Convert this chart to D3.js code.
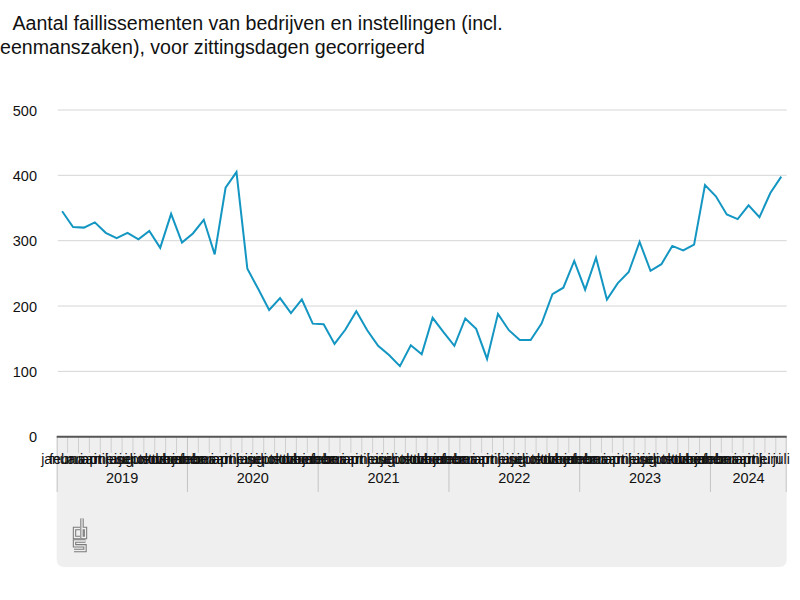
<!DOCTYPE html>
<html>
<head>
<meta charset="utf-8">
<script src="https://cdn.jsdelivr.net/npm/d3@7/dist/d3.min.js"></script>
<style>
  html, body { margin: 0; padding: 0; background: #fff; }
  svg { display: block; font-family: "Liberation Sans", Arial, Helvetica, sans-serif; }
</style>
</head>
<body>
<svg id="chart" width="800" height="600"></svg>
<script>
// ---- data ----
const titleLines = [
  "Aantal faillissementen van bedrijven en instellingen (incl.",
  "eenmanszaken), voor zittingsdagen gecorrigeerd"
];
const years = ["2019", "2020", "2021", "2022", "2023", "2024"];
const monthNames = ["januari", "februari", "maart", "april", "mei", "juni",
  "juli", "augustus", "september", "oktober", "november", "december"];
const monthsPerYear = [12, 12, 12, 12, 12, 7];
const values = [
  // 2019
  345, 321, 320, 328, 312, 304, 312, 302, 315, 289, 341, 297,
  // 2020
  311, 332, 279, 381, 405, 257, 226, 194, 212, 189, 210, 173,
  // 2021
  172, 142, 164, 192, 163, 139, 125, 108, 140, 126, 182, 160,
  // 2022
  139, 181, 165, 119, 188, 163, 148, 148, 173, 218, 228, 269,
  // 2023
  225, 274, 210, 235, 252, 298, 254, 264, 292, 285, 294, 385,
  // 2024
  368, 340, 333, 354, 336, 373, 398
];
const yTicks = [0, 100, 200, 300, 400, 500];

// ---- build categories ----
const cats = [];
years.forEach((yr, yi) => {
  for (let m = 0; m < monthsPerYear[yi]; m++) {
    cats.push({ key: yr + "-" + m, year: yr, month: monthNames[m] });
  }
});
const data = cats.map((c, i) => ({ ...c, value: values[i] }));

// ---- layout ----
const svg = d3.select("#chart");
const plotLeft = 56.7, plotRight = 786.7, plotTop = 110, plotBottom = 436.7;

const x = d3.scaleBand().domain(cats.map(c => c.key)).range([plotLeft, plotRight]).padding(0);
const y = d3.scaleLinear().domain([0, 500]).range([plotBottom, plotTop]);

// title
svg.append("g").selectAll("text").data(titleLines).join("text")
  .attr("x", (d, i) => i === 0 ? 12.5 : 0)
  .attr("y", (d, i) => 30 + i * 24)
  .attr("font-size", 19.6)
  .attr("fill", "#111")
  .text(d => d);

// grey x-axis panel
svg.append("path")
  .attr("d", (() => {
    const x0 = plotLeft, x1 = plotRight, y0 = plotBottom, y1 = 567, r = 8;
    return `M${x0},${y0} H${x1} V${y1 - r} Q${x1},${y1} ${x1 - r},${y1} H${x0 + r} Q${x0},${y1} ${x0},${y1 - r} Z`;
  })())
  .attr("fill", "#efefef");

// gridlines
svg.append("g").selectAll("line").data(yTicks.filter(t => t > 0)).join("line")
  .attr("x1", plotLeft + 1).attr("x2", plotRight)
  .attr("y1", d => y(d)).attr("y2", d => y(d))
  .attr("stroke", "#d6d6d6").attr("stroke-width", 1);

// y axis labels
const yAxis = d3.axisLeft(y).tickValues(yTicks).tickSize(0).tickPadding(0);
const yg = svg.append("g").attr("transform", `translate(37,0)`).call(yAxis);
yg.select(".domain").remove();
yg.selectAll("text").attr("font-size", 14.5).attr("fill", "#111")
  .attr("font-family", "Liberation Sans, Arial, sans-serif")
  .attr("dy", "0.35em");

// month separators
svg.append("g").selectAll("line").data(cats.slice(1)).join("line")
  .attr("x1", d => x(d.key)).attr("x2", d => x(d.key))
  .attr("y1", plotBottom).attr("y2", d => d.month === monthNames[0] ? 492 : 453)
  .attr("stroke", d => d.month === monthNames[0] ? "#c4c4c4" : "#cfcfcf")
  .attr("stroke-width", 1);
// outer edges
svg.append("g").selectAll("line").data([plotLeft + 0.5, plotRight - 0.5]).join("line")
  .attr("x1", d => d).attr("x2", d => d)
  .attr("y1", plotBottom).attr("y2", 492)
  .attr("stroke", "#c4c4c4").attr("stroke-width", 1);

// month labels (overlapping, as in the reference)
svg.append("g").selectAll("text").data(cats).join("text")
  .attr("x", d => x(d.key) + x.bandwidth() / 2)
  .attr("y", 463.5)
  .attr("text-anchor", "middle")
  .attr("font-size", 14)
  .attr("fill", "#111")
  .text(d => d.month);

// year labels
const yearExtents = years.map(yv => {
  const ks = cats.filter(c => c.year === yv);
  const a = x(ks[0].key), b = x(ks[ks.length - 1].key) + x.bandwidth();
  return { year: yv, mid: (a + b) / 2 };
});
svg.append("g").selectAll("text").data(yearExtents).join("text")
  .attr("x", d => d.mid).attr("y", 483)
  .attr("text-anchor", "middle")
  .attr("font-size", 14.5)
  .attr("fill", "#111")
  .text(d => d.year);

// axis baseline
svg.append("line")
  .attr("x1", plotLeft).attr("x2", plotRight)
  .attr("y1", plotBottom).attr("y2", plotBottom)
  .attr("stroke", "#555").attr("stroke-width", 2);

// line
const line = d3.line()
  .x(d => x(d.key) + x.bandwidth() / 2)
  .y(d => y(d.value));
svg.append("path").datum(data)
  .attr("d", line)
  .attr("fill", "none")
  .attr("stroke", "#1496c2")
  .attr("stroke-width", 2)
  .attr("stroke-linejoin", "miter");

// CBS logo (outlined)
const logo = svg.append("g").attr("fill", "none");
const logoPaths = [
  "M80,528.5 H74.5 V537.5 H80",
  "M82,518.5 V537.5 H85.5 V528.5 H82",
  "M85.5,541 H74.5 V545.8 H85 V550.5 H74"
];
logo.selectAll("path.o").data(logoPaths).join("path").attr("class", "o")
  .attr("d", d => d).attr("stroke", "#7a7a7a").attr("stroke-width", 3.4);
logo.selectAll("path.i").data(logoPaths).join("path").attr("class", "i")
  .attr("d", d => d).attr("stroke", "#efefef").attr("stroke-width", 1.3);
</script>
</body>
</html>
